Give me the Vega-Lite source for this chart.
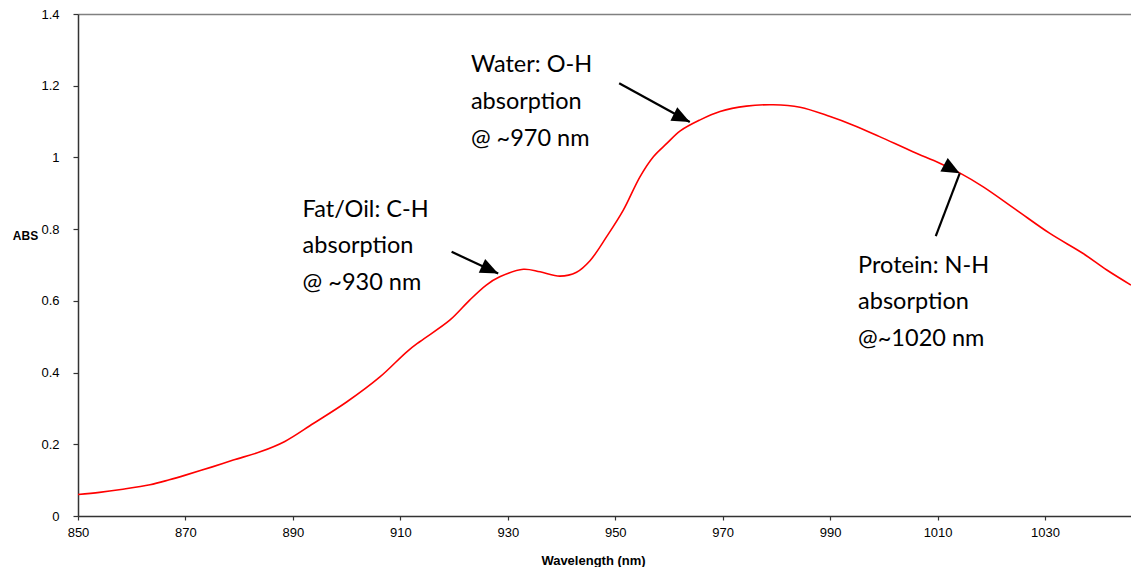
{
  "$schema": "https://vega.github.io/schema/vega-lite/v6.json",
  "width": 1053,
  "height": 502,
  "autosize": {"type": "none"},
  "padding": {"left": 78, "top": 14, "right": 0, "bottom": 51},
  "background": "white",
  "config": {"view": {"stroke": null}},
  "datasets": {
    "spectrum": [
      {"nm": 850, "abs": 0.060},
      {"nm": 854, "abs": 0.066},
      {"nm": 858, "abs": 0.074},
      {"nm": 863.4, "abs": 0.087},
      {"nm": 867, "abs": 0.101},
      {"nm": 870, "abs": 0.114},
      {"nm": 875, "abs": 0.137},
      {"nm": 878.9, "abs": 0.156},
      {"nm": 883.9, "abs": 0.179},
      {"nm": 888.5, "abs": 0.208},
      {"nm": 893.8, "abs": 0.258},
      {"nm": 900.0, "abs": 0.318},
      {"nm": 906.2, "abs": 0.388},
      {"nm": 911.2, "abs": 0.458},
      {"nm": 913.6, "abs": 0.486},
      {"nm": 919.2, "abs": 0.546},
      {"nm": 922.9, "abs": 0.602},
      {"nm": 926.0, "abs": 0.644},
      {"nm": 928.5, "abs": 0.667},
      {"nm": 932.9, "abs": 0.688},
      {"nm": 936.0, "abs": 0.681},
      {"nm": 939.7, "abs": 0.669},
      {"nm": 942.8, "abs": 0.680},
      {"nm": 945.3, "abs": 0.712},
      {"nm": 948.4, "abs": 0.779},
      {"nm": 951.5, "abs": 0.853},
      {"nm": 954.6, "abs": 0.946},
      {"nm": 957.1, "abs": 1.002},
      {"nm": 959.6, "abs": 1.039},
      {"nm": 962.1, "abs": 1.074},
      {"nm": 965.7, "abs": 1.104},
      {"nm": 969.5, "abs": 1.128},
      {"nm": 974.4, "abs": 1.143},
      {"nm": 979.4, "abs": 1.147},
      {"nm": 984.4, "abs": 1.140},
      {"nm": 990.0, "abs": 1.114},
      {"nm": 994.3, "abs": 1.090},
      {"nm": 999.2, "abs": 1.058},
      {"nm": 1005.4, "abs": 1.016},
      {"nm": 1010.4, "abs": 0.984},
      {"nm": 1014.1, "abs": 0.957},
      {"nm": 1018.5, "abs": 0.918},
      {"nm": 1024.7, "abs": 0.853},
      {"nm": 1030.9, "abs": 0.788},
      {"nm": 1037.1, "abs": 0.732},
      {"nm": 1041.5, "abs": 0.686},
      {"nm": 1046.0, "abs": 0.644}
    ],
    "notes": [
      {"label": "Water: O-H", "nm": 923.13, "abs": 1.239},
      {"label": "absorption", "nm": 923.13, "abs": 1.136},
      {"label": "@ ~970 nm", "nm": 923.13, "abs": 1.032},
      {"label": "Fat/Oil: C-H", "nm": 891.81, "abs": 0.8345},
      {"label": "absorption", "nm": 891.81, "abs": 0.7323},
      {"label": "@ ~930 nm", "nm": 891.81, "abs": 0.630},
      {"label": "Protein: N-H", "nm": 995.2, "abs": 0.6765},
      {"label": "absorption", "nm": 995.2, "abs": 0.577},
      {"label": "@~1020 nm", "nm": 995.2, "abs": 0.4736}
    ],
    "arrows": [
      {"id": "fat", "nm": 919.54, "abs": 0.7368, "nm2": 928.21, "abs2": 0.6765},
      {"id": "water", "nm": 950.73, "abs": 1.2068, "nm2": 963.88, "abs2": 1.0988},
      {"id": "protein", "nm": 1009.66, "abs": 0.7807, "nm2": 1014.12, "abs2": 0.9556}
    ]
  },
  "layer": [
    {
      "data": {"name": "spectrum"},
      "mark": {"type": "line", "color": "#FF0000", "strokeWidth": 1.6, "interpolate": "catmull-rom", "clip": true},
      "encoding": {
        "x": {
          "field": "nm", "type": "quantitative",
          "scale": {"domain": [850, 1046], "nice": false, "zero": false},
          "axis": {
            "values": [850, 870, 890, 910, 930, 950, 970, 990, 1010, 1030],
            "format": "d",
            "title": "Wavelength (nm)",
            "titleFont": "Arial", "titleFontSize": 13, "titleFontWeight": "bold", "titleColor": "#000",
            "titleX": 515, "titleY": 48.5, "titleAlign": "center", "titleBaseline": "alphabetic", "titleAnchor": null,
            "labelFont": "Arial", "labelFontSize": 13, "labelColor": "#000", "labelPadding": 6,
            "labelFlush": false, "labelOverlap": false,
            "domainColor": "#333", "domainWidth": 1.5, "tickColor": "#333", "tickWidth": 1.2, "tickSize": 4,
            "grid": false
          }
        },
        "y": {
          "field": "abs", "type": "quantitative",
          "scale": {"domain": [0, 1.4], "nice": false},
          "axis": {
            "values": [0, 0.2, 0.4, 0.6, 0.8, 1, 1.2, 1.4],
            "format": "~g",
            "title": "ABS",
            "titleFont": "Arial", "titleFontSize": 12, "titleFontWeight": "bold", "titleColor": "#000",
            "titleAngle": 0, "titleX": -53, "titleY": 225.5, "titleAlign": "center", "titleBaseline": "alphabetic", "titleAnchor": null,
            "labelFont": "Arial", "labelFontSize": 13, "labelColor": "#000", "labelPadding": 14,
            "labelFlush": false, "labelOverlap": false,
            "domainColor": "#333", "domainWidth": 1.5, "tickColor": "#333", "tickWidth": 1.2, "tickSize": 5,
            "grid": true,
            "gridColor": {"condition": {"test": "datum.value == 1.4", "value": "#808080"}, "value": "transparent"},
            "gridWidth": 1.5
          }
        }
      }
    },
    {
      "data": {"name": "notes"},
      "mark": {"type": "text", "font": "Lato", "fontSize": 23.5, "color": "#000", "align": "left", "baseline": "alphabetic"},
      "encoding": {
        "x": {"field": "nm", "type": "quantitative"},
        "y": {"field": "abs", "type": "quantitative"},
        "text": {"field": "label", "type": "nominal"}
      }
    },
    {
      "data": {"name": "arrows"},
      "mark": {"type": "rule", "color": "#000", "strokeWidth": 2.2},
      "encoding": {
        "x": {"field": "nm", "type": "quantitative"},
        "y": {"field": "abs", "type": "quantitative"},
        "x2": {"field": "nm2"},
        "y2": {"field": "abs2"}
      }
    },
    {
      "data": {"name": "arrows"},
      "mark": {"type": "point", "shape": "M0,0L0.85,2L-0.85,2Z", "filled": true, "color": "#000", "opacity": 1, "size": 320, "strokeWidth": 0},
      "encoding": {
        "x": {"field": "nm2", "type": "quantitative"},
        "y": {"field": "abs2", "type": "quantitative"},
        "angle": {"field": "id", "type": "nominal", "scale": {"domain": ["fat", "water", "protein"], "range": [114.9, 118.7, 20.9]}, "legend": null}
      }
    }
  ]
}
